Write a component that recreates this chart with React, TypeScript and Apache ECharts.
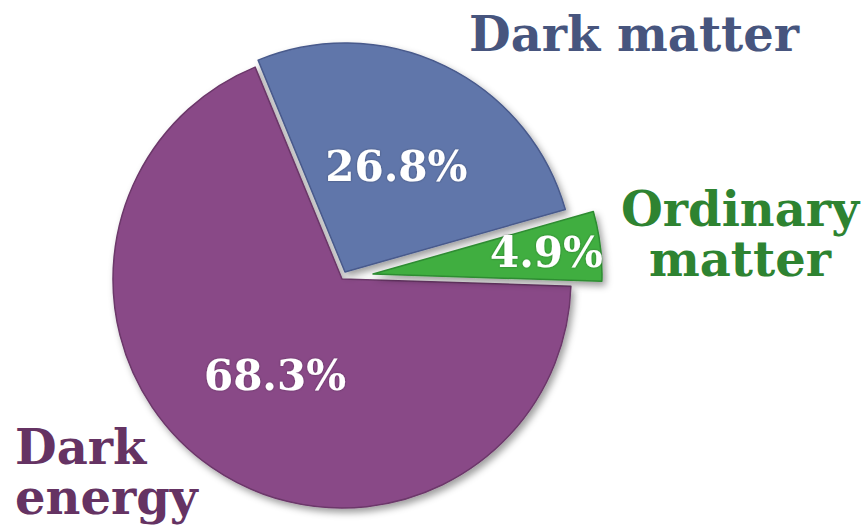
import React, { useEffect, useRef } from "react";
import * as echarts from "echarts";

// Data (clockwise order starting from the upper-left edge)
const categories = ["Dark matter", "Ordinary matter", "Dark energy"];
const values = [26.8, 4.9, 68.3];
const fillColors = ["#6176AA", "#3FAE3F", "#894A87"];
const borderColors = ["#485A8C", "#2F8C33", "#6C376A"];
const nameColors = ["#47557E", "#2E8331", "#653363"];
const nameLines = [["Dark matter"], ["Ordinary", "matter"], ["Dark", "energy"]];

const FONT = "'DejaVu Serif', 'Liberation Serif', serif";
const R = 229;
const START = 112.3;

// pixel centers of each (exploded) slice
const centers: [number, number][] = [
  [345, 272],
  [373, 274],
  [342, 279],
];

// layout of the outside name labels
const namePos: { x: number; y: number; align: "left" | "center" }[] = [
  { x: 469, y: 34, align: "left" },
  { x: 740, y: 209, align: "center" },
  { x: 15, y: 447, align: "left" },
];
const NAME_LINE_H = 50;

function makeSeries(visibleIdx: number, labelIdx: number | null, radius: number[], center: [number, number], showFill: boolean) {
  return {
    type: "pie",
    center,
    radius,
    startAngle: START,
    clockwise: true,
    silent: true,
    avoidLabelOverlap: false,
    labelLine: { show: false },
    emphasis: { disabled: true },
    data: categories.map((name, i) => {
      const visible = showFill && i === visibleIdx;
      return {
        name,
        value: values[i],
        itemStyle: visible
          ? {
              color: fillColors[i],
              borderColor: borderColors[i],
              borderWidth: 1.5,
              shadowBlur: 7,
              shadowOffsetX: 3,
              shadowOffsetY: 4,
              shadowColor: "rgba(0,0,0,0.38)",
            }
          : { color: "rgba(0,0,0,0)", borderWidth: 0 },
        label:
          labelIdx === i
            ? {
                show: true,
                position: "inside",
                formatter: (p: any) => p.value.toFixed(1) + "%",
                color: "#ffffff",
                fontFamily: FONT,
                fontWeight: "bold",
                fontSize: 42,
                textShadowColor: "rgba(0,0,0,0.35)",
                textShadowBlur: 2,
              }
            : { show: false },
      };
    }),
  };
}

export default function App() {
  const ref = useRef<HTMLDivElement>(null);
  useEffect(() => {
    if (!ref.current) return;
    const chart = echarts.init(ref.current, null, { renderer: "svg" });

    const graphics: any[] = [];
    nameLines.forEach((lines, i) => {
      lines.forEach((line, j) => {
        graphics.push({
          type: "text",
          x: namePos[i].x,
          y: namePos[i].y + j * NAME_LINE_H,
          silent: true,
          style: {
            text: line,
            fill: nameColors[i],
            font: `bold 48px ${FONT}`,
            lineHeight: 46,
            align: namePos[i].align,
            verticalAlign: "middle",
          },
        });
      });
    });

    chart.setOption({
      animation: false,
      backgroundColor: "#ffffff",
      series: [
        makeSeries(2, 2, [0, R], centers[2], true),
        makeSeries(0, 0, [0, R], centers[0], true),
        makeSeries(1, null, [0, R], centers[1], true),
        makeSeries(1, 1, [R / 2, R], centers[1], false),
      ],
      graphic: graphics,
    });
    return () => chart.dispose();
  }, []);
  return <div ref={ref} style={{ width: 865, height: 525, position: "fixed", left: 0, top: 0 }} />;
}
